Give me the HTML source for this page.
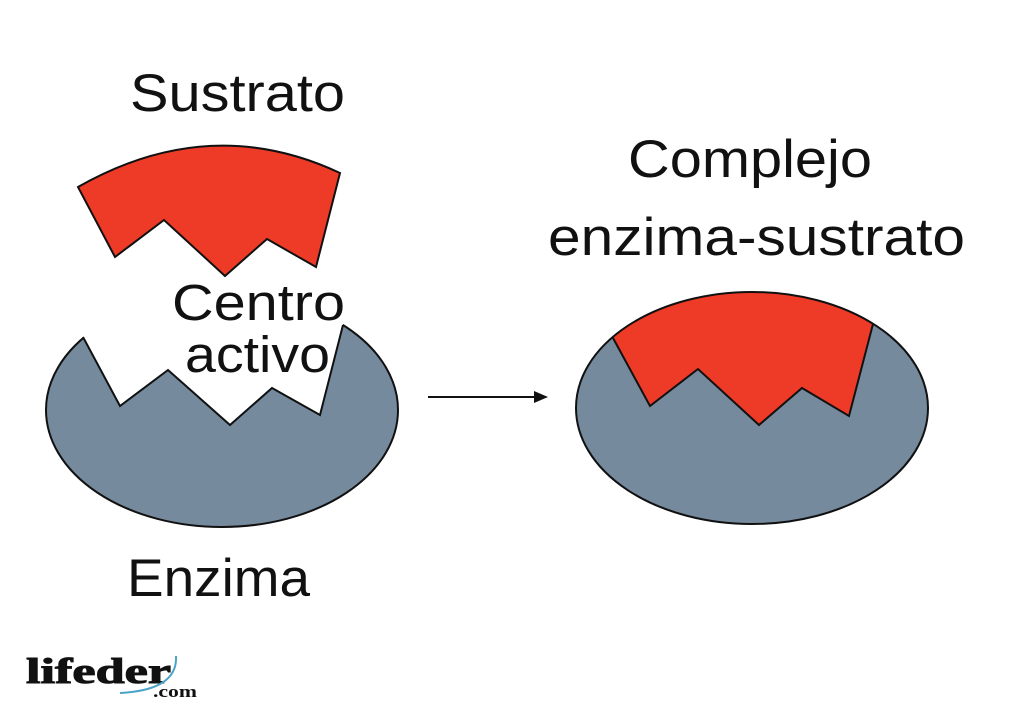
<!DOCTYPE html>
<html><head><meta charset="utf-8"><style>
html,body{margin:0;padding:0;background:#fff;width:1024px;height:725px;overflow:hidden}
svg{display:block}
text{font-family:"Liberation Sans",sans-serif;fill:#111}
</style></head><body>
<svg width="1024" height="725" viewBox="0 0 1024 725">
<defs><clipPath id="c"><ellipse cx="752" cy="408" rx="176" ry="116"/></clipPath></defs>
<ellipse cx="222" cy="410" rx="176" ry="117" fill="#768a9e" stroke="#111" stroke-width="2"/>
<polygon points="83,337 120,406 168,370 230,425 272,388 320,415 343,325 343,280 83,280" fill="#fff"/>
<polyline points="83,337 120,406 168,370 230,425 272,388 320,415 343,325" fill="none" stroke="#111" stroke-width="2"/>
<path d="M78,187 Q210,112 340,173 L316,267 L267,239 L225,276 L164,220 L115,257 Z" fill="#ee3b27" stroke="#111" stroke-width="2"/>
<ellipse cx="752" cy="408" rx="176" ry="116" fill="#768a9e"/>
<polygon clip-path="url(#c)" points="613,338 650,406 698,369 759,425 802,388 849,416 873,324 880,250 600,250" fill="#ee3b27"/>
<polyline points="613,338 650,406 698,369 759,425 802,388 849,416 873,324" fill="none" stroke="#111" stroke-width="2"/>
<ellipse cx="752" cy="408" rx="176" ry="116" fill="none" stroke="#111" stroke-width="2"/>
<line x1="428" y1="397" x2="538" y2="397" stroke="#111" stroke-width="2"/>
<polygon points="548,397 534,391 534,403" fill="#111"/>
<text x="130" y="111" font-size="53" textLength="215" lengthAdjust="spacingAndGlyphs">Sustrato</text>
<text x="628" y="177" font-size="53" textLength="244" lengthAdjust="spacingAndGlyphs">Complejo</text>
<text x="548" y="255" font-size="53" textLength="417" lengthAdjust="spacingAndGlyphs">enzima-sustrato</text>
<text x="172" y="320" font-size="51" textLength="173" lengthAdjust="spacingAndGlyphs">Centro</text>
<text x="185" y="372" font-size="51" textLength="145" lengthAdjust="spacingAndGlyphs">activo</text>
<text x="127" y="596" font-size="53" textLength="183" lengthAdjust="spacingAndGlyphs">Enzima</text>
<text x="26" y="683" font-size="36" font-weight="900" style="font-family:'Liberation Serif',serif" textLength="145" lengthAdjust="spacingAndGlyphs" stroke="#111" stroke-width="1">lifeder</text>
<path d="M176,656 Q178,690 120,693" fill="none" stroke="#4aa3c8" stroke-width="2"/>
<text x="153" y="697" font-size="17" font-weight="bold" style="font-family:'Liberation Serif',serif" textLength="44" lengthAdjust="spacingAndGlyphs">.com</text>
</svg>
</body></html>
